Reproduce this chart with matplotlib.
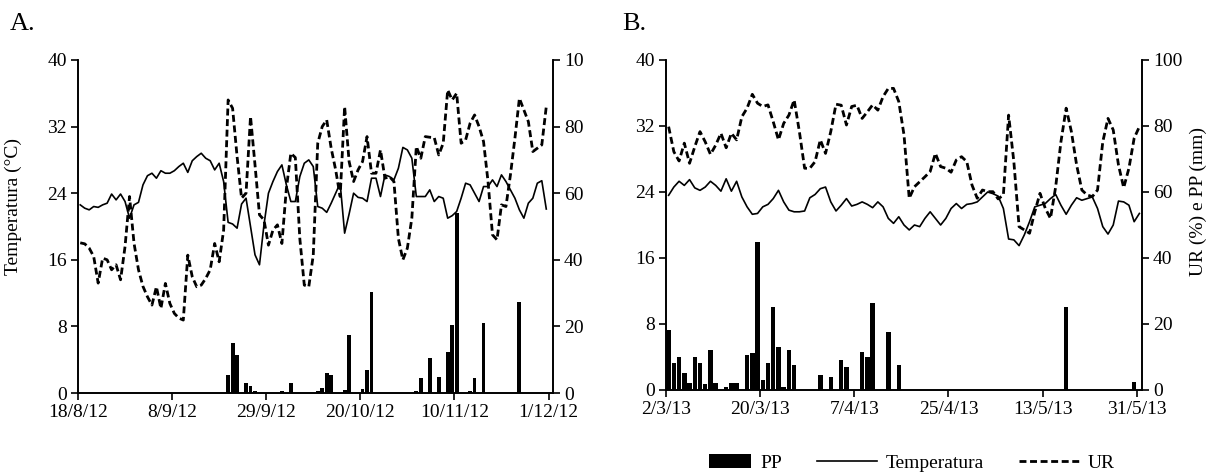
import numpy as np
import matplotlib.pyplot as plt
from matplotlib.patches import Patch, Rectangle
from matplotlib.lines import Line2D
from matplotlib.legend_handler import HandlerPatch

plt.rcParams['font.family'] = ['Liberation Serif', 'DejaVu Serif']
plt.rcParams['font.size'] = 14

# Painel A: 18/8/12 a 30/11/12 (dias desde 18/8/12)
temp_a = [22.6, 22.2, 22.0, 22.4, 22.3, 22.6, 22.8, 23.9, 23.2, 23.9,
          23.0, 21.0, 22.6, 22.9, 25.0, 26.1, 26.4, 25.8, 26.7, 26.4,
          26.4, 26.7, 27.2, 27.6, 26.5, 27.9, 28.4, 28.8, 28.2, 27.9,
          26.8, 27.6, 25.4, 20.5, 20.3, 19.8, 22.7, 23.4, 20.0, 16.6,
          15.4, 20.2, 24.0, 25.4, 26.6, 27.4, 25.0, 23.0, 23.0, 26.0,
          27.6, 28.0, 27.2, 22.4, 22.2, 21.7, 22.8, 24.0, 25.2, 19.2,
          21.5, 24.0, 23.5, 23.4, 23.0, 25.8, 25.8, 23.6, 26.2, 26.0,
          25.6, 27.0, 29.5, 29.2, 28.2, 23.6, 23.6, 23.6, 24.4, 23.0,
          23.6, 23.4, 21.0, 21.3, 21.8, 23.4, 25.2, 25.0, 24.0, 23.0,
          24.8, 24.8, 25.6, 24.8, 26.2, 25.4, 24.4, 23.4, 22.0, 21.0,
          22.8, 23.4, 25.2, 25.5, 22.1]
ur_a = [45.1, 44.8, 43.5, 41.0, 33.0, 40.5, 40.0, 37.0, 38.5, 34.0,
        44.0, 59.0, 45.0, 37.0, 32.0, 28.9, 26.4, 31.9, 25.4, 32.9,
        26.9, 23.9, 22.5, 21.9, 41.4, 34.9, 31.9, 32.4, 34.4, 37.0,
        44.9, 39.4, 48.9, 88.0, 85.5, 71.0, 58.5, 60.0, 83.0, 68.5,
        53.5, 52.0, 44.4, 48.9, 50.5, 44.9, 61.4, 72.0, 70.7, 46.4,
        32.4, 31.9, 41.4, 75.0, 80.0, 82.0, 73.5, 67.0, 59.0, 86.0,
        69.5, 63.5, 67.0, 69.5, 77.0, 66.0, 66.0, 73.0, 64.5, 65.0,
        63.5, 46.4, 40.0, 43.5, 52.5, 74.0, 70.5, 77.0, 76.8, 76.7,
        71.5, 75.0, 91.0, 88.0, 90.0, 75.0, 76.0, 81.0, 83.5, 80.0,
        75.5, 63.5, 47.5, 46.0, 56.5, 56.0, 65.5, 76.5, 88.5, 85.0,
        81.5, 72.5, 73.5, 74.5, 86.0]
pp_a_dia = [33, 34, 35, 37, 38, 39, 45, 47, 53, 54, 55, 56, 59, 60, 63, 64, 65,
            75, 76, 78, 80, 82, 83, 84, 87, 88, 90, 98]
pp_a = [5.4, 14.9, 11.4, 3.1, 2.1, 0.7, 0.5, 3.1, 0.5, 1.4, 5.9, 5.4, 0.9, 17.4,
        1.2, 6.9, 30.3, 0.5, 4.4, 10.4, 4.9, 12.4, 20.5, 54.0, 0.5, 4.5, 20.9, 27.4]
ticks_a = ["18/8/12", "8/9/12", "29/9/12", "20/10/12", "10/11/12", "1/12/12"]

# Painel B: 2/3/13 a 31/5/13 (dias desde 2/3/13)
temp_b = [23.6, 24.6, 25.3, 24.8, 25.5, 24.5, 24.2, 24.6, 25.3, 24.8,
          24.1, 25.6, 24.1, 25.3, 23.4, 22.2, 21.3, 21.4, 22.2, 22.5,
          23.2, 24.2, 22.8, 21.8, 21.6, 21.6, 21.7, 23.3, 23.7, 24.4,
          24.6, 22.8, 21.7, 22.4, 23.2, 22.3, 22.5, 22.8, 22.5, 22.1,
          22.8, 22.2, 20.8, 20.2, 21.0, 20.0, 19.4, 20.0, 19.8, 20.8,
          21.6, 20.8, 20.0, 20.8, 22.0, 22.6, 22.0, 22.5, 22.6, 22.8,
          23.4, 24.0, 23.8, 23.5, 22.0, 18.3, 18.2, 17.5, 18.8, 20.4,
          22.2, 22.4, 22.6, 23.2, 23.7, 22.4, 21.3, 22.4, 23.3, 23.0,
          23.2, 23.4, 22.0, 19.8, 18.9, 20.0, 22.9, 22.8, 22.4, 20.4,
          21.4]
ur_b = [79.8, 72.2, 69.4, 74.8, 68.7, 73.7, 78.3, 75.2, 71.4, 74.2,
        77.8, 73.4, 77.8, 75.8, 82.8, 85.4, 89.6, 86.9, 85.9, 86.4,
        81.3, 75.8, 80.8, 83.3, 87.9, 78.3, 67.2, 67.2, 69.2, 75.8,
        71.7, 78.3, 86.6, 86.3, 80.3, 85.9, 86.3, 82.3, 84.3, 86.4,
        84.8, 88.9, 91.4, 91.4, 87.4, 77.3, 58.1, 61.6, 63.1, 64.6,
        66.2, 71.7, 67.7, 67.2, 66.0, 69.7, 70.7, 69.2, 62.1, 58.1,
        60.6, 60.1, 60.1, 57.9, 59.1, 83.3, 69.2, 49.5, 48.5, 47.5,
        54.0, 59.6, 55.1, 52.0, 61.6, 75.2, 85.4, 78.3, 68.2, 60.6,
        59.1, 58.6, 60.6, 75.2, 82.3, 78.8, 68.2, 61.3, 67.2, 76.3,
        79.8]
pp_b_dia = [0, 1, 2, 3, 4, 5, 6, 7, 8, 9, 11, 12, 13, 15, 16, 17, 18, 19, 20, 21,
            22, 23, 24, 29, 31, 33, 34, 37, 38, 39, 42, 44, 76, 89]
pp_b = [18.2, 8.1, 10.1, 5.1, 2.2, 10.1, 8.1, 1.7, 12.1, 2.2, 1.0, 2.0, 2.0, 10.6,
        11.1, 44.9, 3.0, 8.1, 25.1, 13.1, 1.0, 12.1, 7.6, 4.5, 4.0, 9.1, 6.9, 11.6,
        10.1, 26.5, 17.7, 7.6, 25.2, 2.5]
ticks_b = ["2/3/13", "20/3/13", "7/4/13", "25/4/13", "13/5/13", "31/5/13"]

W, H = 1210, 475
fig = plt.figure(figsize=(W / 100, H / 100), dpi=100)
axA = fig.add_axes([78 / W, (H - 393) / H, 475 / W, 333 / H])
axB = fig.add_axes([666 / W, (H - 390) / H, 476 / W, 330 / H])


def painel(ax, temp, ur, pp_dia, pp, passo, rotulos, x_max):
    ax2 = ax.twinx()
    x = np.arange(len(temp)) + 0.5
    ax2.bar(np.array(pp_dia) + 0.5, pp, width=0.85, color='black')
    ax.plot(x, temp, color='black', lw=1.2)
    ax2.plot(x, ur, color='black', lw=2.0, dashes=(2.5, 1.3))
    ax.set_xlim(0, x_max)
    ax.set_ylim(0, 40)
    ax2.set_ylim(0, 100)
    ax.set_yticks(np.arange(0, 41, 8))
    ax2.set_yticks(np.arange(0, 101, 20))
    ax.set_xticks(np.arange(len(rotulos)) * passo)
    ax.set_xticklabels(rotulos)
    for a in (ax, ax2):
        a.spines['top'].set_visible(False)
        for s in a.spines.values():
            s.set_linewidth(1.2)
        a.tick_params(direction='out', length=5, width=1.2, labelsize=14, pad=3)
    return ax2


axA2 = painel(axA, temp_a, ur_a, pp_a_dia, pp_a, 21, ticks_a, 106)
axB2 = painel(axB, temp_b, ur_b, pp_b_dia, pp_b, 18, ticks_b, 91)

axA.set_ylabel('Temperatura (°C)', fontsize=14)
axA.yaxis.set_label_coords(-0.118, 0.56)
axB2.set_ylabel('UR (%) e PP (mm)', fontsize=14)
axB2.yaxis.set_label_coords(1.10, 0.57)

# no original o rótulo "100" do eixo direito de A aparece cortado
fig.add_artist(Rectangle((583 / W, (H - 74) / H), 32 / W, 26 / H, transform=fig.transFigure,
                         facecolor='white', edgecolor='none', zorder=10))

fig.text(10 / W, 1 - 30 / H, 'A.', fontsize=19, va='baseline')
fig.text(622 / W, 1 - 30 / H, 'B.', fontsize=19, va='baseline')


def barra_legenda(legend, orig_handle, xdescent, ydescent, width, height, fontsize):
    return Rectangle((-xdescent + 0.3 * width, -ydescent), 0.7 * width, height)


handles = [Patch(facecolor='black'),
           Line2D([], [], color='black', lw=1.2),
           Line2D([], [], color='black', lw=2.0, dashes=(2.5, 1.3))]
fig.legend(handles, ['PP', 'Temperatura', 'UR'], ncol=3, frameon=False,
           loc='center', bbox_to_anchor=(903 / W, 12 / H), handlelength=3.1,
           handletextpad=0.45, columnspacing=1.8, fontsize=14,
           handler_map={Patch: HandlerPatch(patch_func=barra_legenda)})

fig.savefig('out.png', dpi=100)
